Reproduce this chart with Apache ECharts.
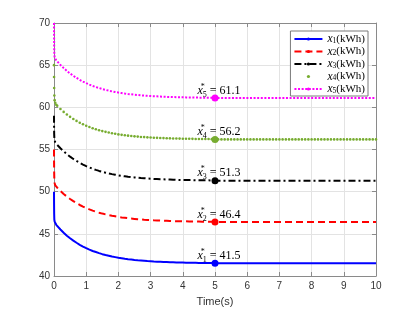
<!DOCTYPE html>
<html><head><meta charset="utf-8">
<script src="https://cdn.jsdelivr.net/npm/echarts@6/dist/echarts.min.js"></script>
<style>html,body{margin:0;padding:0;background:#fff}#c{width:415px;height:312px}</style>
</head><body><div id="c"></div>
<script>
const time = [0,0.002,0.005,0.01,0.02,0.04,0.07,
0.1,0.2,0.3,0.4,0.5,0.6,0.7,0.8,0.9,1.0,
1.1,1.2,1.3,1.4,1.5,1.6,1.7,1.8,1.9,2.0,
2.1,2.2,2.3,2.4,2.5,2.6,2.7,2.8,2.9,3.0,
3.1,3.2,3.3,3.4,3.5,3.6,3.7,3.8,3.9,4.0,
4.1,4.2,4.3,4.4,4.5,4.6,4.7,4.8,4.9,5.0,
5.1,5.2,5.3,5.4,5.5,5.6,5.7,5.8,5.9,6.0,
6.1,6.2,6.3,6.4,6.5,6.6,6.7,6.8,6.9,7.0,
7.1,7.2,7.3,7.4,7.5,7.6,7.7,7.8,7.9,8.0,
8.1,8.2,8.3,8.4,8.5,8.6,8.7,8.8,8.9,9.0,
9.1,9.2,9.3,9.4,9.5,9.6,9.7,9.8,9.9,10.0];

const x1 = [50.0,48.6,47.4,46.7,46.45,46.22,46.07,
45.93,45.51,45.13,44.78,44.47,44.19,43.94,43.70,43.49,43.30,
43.13,42.97,42.84,42.71,42.59,42.49,42.40,42.31,42.24,42.16,
42.10,42.04,41.99,41.95,41.90,41.86,41.83,41.80,41.77,41.75,
41.72,41.70,41.68,41.66,41.65,41.63,41.62,41.61,41.60,41.59,
41.58,41.57,41.57,41.56,41.55,41.55,41.54,41.54,41.53,41.53,
41.5,41.5,41.5,41.5,41.5,41.5,41.5,41.5,41.5,41.5,
41.5,41.5,41.5,41.5,41.5,41.5,41.5,41.5,41.5,41.5,
41.5,41.5,41.5,41.5,41.5,41.5,41.5,41.5,41.5,41.5,
41.5,41.5,41.5,41.5,41.5,41.5,41.5,41.5,41.5,41.5,
41.5,41.5,41.5,41.5,41.5,41.5,41.5,41.5,41.5,41.5];

const x2 = [55.0,53.5,52.3,51.5,51.0,50.75,50.59,
50.47,50.09,49.73,49.42,49.13,48.87,48.64,48.42,48.23,48.06,
47.90,47.75,47.63,47.51,47.40,47.31,47.22,47.14,47.08,47.01,
46.95,46.90,46.85,46.81,46.77,46.73,46.70,46.67,46.65,46.63,
46.60,46.58,46.57,46.55,46.54,46.52,46.51,46.50,46.49,46.48,
46.48,46.47,46.46,46.45,46.45,46.44,46.44,46.44,46.43,46.43,
46.4,46.4,46.4,46.4,46.4,46.4,46.4,46.4,46.4,46.4,
46.4,46.4,46.4,46.4,46.4,46.4,46.4,46.4,46.4,46.4,
46.4,46.4,46.4,46.4,46.4,46.4,46.4,46.4,46.4,46.4,
46.4,46.4,46.4,46.4,46.4,46.4,46.4,46.4,46.4,46.4,
46.4,46.4,46.4,46.4,46.4,46.4,46.4,46.4,46.4,46.4];

const x3 = [59.0,57.8,56.9,56.4,56.1,55.85,55.68,
55.55,55.15,54.78,54.45,54.15,53.88,53.64,53.41,53.21,53.03,
52.87,52.71,52.58,52.46,52.35,52.25,52.16,52.08,52.01,51.93,
51.87,51.82,51.77,51.73,51.69,51.65,51.61,51.59,51.56,51.54,
51.51,51.49,51.47,51.46,51.44,51.43,51.42,51.40,51.39,51.38,
51.38,51.37,51.37,51.36,51.35,51.35,51.34,51.34,51.33,51.33,
51.3,51.3,51.3,51.3,51.3,51.3,51.3,51.3,51.3,51.3,
51.3,51.3,51.3,51.3,51.3,51.3,51.3,51.3,51.3,51.3,
51.3,51.3,51.3,51.3,51.3,51.3,51.3,51.3,51.3,51.3,
51.3,51.3,51.3,51.3,51.3,51.3,51.3,51.3,51.3,51.3,
51.3,51.3,51.3,51.3,51.3,51.3,51.3,51.3,51.3,51.3];

const x4 = [65.0,63.6,62.3,61.4,60.85,60.55,60.30,
60.18,59.80,59.46,59.15,58.87,58.62,58.39,58.18,57.99,57.82,
57.67,57.52,57.40,57.29,57.18,57.09,57.01,56.93,56.86,56.79,
56.74,56.69,56.64,56.60,56.56,56.53,56.49,56.47,56.44,56.42,
56.40,56.38,56.36,56.35,56.33,56.32,56.31,56.30,56.29,56.28,
56.27,56.27,56.26,56.25,56.25,56.24,56.24,56.24,56.23,56.23,
56.2,56.2,56.2,56.2,56.2,56.2,56.2,56.2,56.2,56.2,
56.2,56.2,56.2,56.2,56.2,56.2,56.2,56.2,56.2,56.2,
56.2,56.2,56.2,56.2,56.2,56.2,56.2,56.2,56.2,56.2,
56.2,56.2,56.2,56.2,56.2,56.2,56.2,56.2,56.2,56.2,
56.2,56.2,56.2,56.2,56.2,56.2,56.2,56.2,56.2,56.2];

const x5 = [70.0,68.6,67.3,66.3,65.9,65.7,65.57,
65.44,65.03,64.66,64.32,64.01,63.74,63.49,63.26,63.05,62.87,
62.70,62.54,62.41,62.29,62.17,62.07,61.98,61.89,61.82,61.75,
61.69,61.63,61.58,61.54,61.49,61.46,61.42,61.39,61.36,61.34,
61.32,61.30,61.28,61.26,61.24,61.23,61.22,61.21,61.20,61.19,
61.18,61.17,61.17,61.16,61.15,61.15,61.14,61.14,61.13,61.13,
61.1,61.1,61.1,61.1,61.1,61.1,61.1,61.1,61.1,61.1,
61.1,61.1,61.1,61.1,61.1,61.1,61.1,61.1,61.1,61.1,
61.1,61.1,61.1,61.1,61.1,61.1,61.1,61.1,61.1,61.1,
61.1,61.1,61.1,61.1,61.1,61.1,61.1,61.1,61.1,61.1,
61.1,61.1,61.1,61.1,61.1,61.1,61.1,61.1,61.1,61.1];

const seriesNames = ['x1(kWh)','x2(kWh)','x3(kWh)','x4(kWh)','x5(kWh)'];
const finalTime = 5;
const finals = [41.5, 46.4, 51.3, 56.2, 61.1];
const colors = ['#0000ff','#ff0000','#000000','#77ac30','#ff00ff'];
const xMin = 0, xMax = 10, xStep = 1;
const yMin = 40, yMax = 70, yStep = 5;
const xAxisTitle = 'Time(s)';

const allSeries = [x1, x2, x3, x4, x5];
const serif = '"Liberation Serif", "DejaVu Serif", serif';
const sans = '"Liberation Sans", Arial, sans-serif';

const lineStyles = [
  {width: 2, type: 'solid'},
  {width: 2, type: [7, 4]},
  {width: 2, type: [7, 3, 2, 3]},
  {width: 0, opacity: 0},
  {width: 2, type: [2, 1.6]}
];

const labelRich = {
  x: {fontFamily: serif, fontStyle: 'italic', fontSize: 12, color: '#000', lineHeight: 16},
  sup: {fontFamily: serif, fontSize: 8, color: '#000', verticalAlign: 'top', lineHeight: 8, width: 0.01},
  sub: {fontFamily: serif, fontSize: 8, color: '#000', verticalAlign: 'bottom', lineHeight: 8},
  eq: {fontFamily: serif, fontSize: 12, color: '#000', lineHeight: 16}
};

const series = allSeries.map((vals, i) => ({
  name: seriesNames[i],
  type: 'line',
  data: time.map((t, k) => [t, vals[k]]),
  symbol: i === 3 ? 'circle' : 'none',
  symbolSize: 2.6,
  showSymbol: i === 3,
  itemStyle: {color: colors[i]},
  lineStyle: Object.assign({color: colors[i]}, lineStyles[i]),
  animation: false,
  z: 3,
  markPoint: {
    symbol: 'circle',
    symbolSize: 7,
    itemStyle: {color: colors[i]},
    data: [{coord: [finalTime, finals[i]], value: finals[i]}],
    label: {
      show: true,
      position: 'top',
      distance: 0,
      offset: [4, 4],
      formatter: () => '{x|x}{sup|*}{sub|' + (i + 1) + '}{eq| = ' + finals[i].toFixed(1) + '}',
      rich: labelRich
    }
  }
}));

const chart = echarts.init(document.getElementById('c'), null, {renderer: 'canvas'});
const axisLineColor = '#8a8a8a';
chart.setOption({
  animation: false,
  backgroundColor: '#fff',
  grid: {left: 54, right: 39, top: 23, bottom: 35},
  legend: {
    orient: 'vertical',
    right: 47,
    top: 31,
    itemWidth: 28,
    itemHeight: 4,
    itemGap: 0.5,
    padding: [2, 3, 1, 3],
    backgroundColor: '#fff',
    borderColor: '#7a7a7a',
    borderWidth: 1,
    borderRadius: 0,
    data: seriesNames,
    formatter: (name) => {
      const idx = seriesNames.indexOf(name) + 1;
      return '{x|x}{sub|' + idx + '}{k|(kWh)}';
    },
    textStyle: {
      rich: {
        x: {fontFamily: serif, fontStyle: 'italic', fontSize: 11.5, color: '#000', lineHeight: 12},
        sub: {fontFamily: serif, fontSize: 7.5, color: '#000', verticalAlign: 'bottom', lineHeight: 7},
        k: {fontFamily: serif, fontSize: 11, color: '#000', lineHeight: 12}
      }
    }
  },
  xAxis: [{
    type: 'value', min: xMin, max: xMax, interval: xStep,
    name: xAxisTitle, nameLocation: 'middle', nameGap: 20,
    nameTextStyle: {fontFamily: sans, fontSize: 11, color: '#333'},
    axisLine: {show: true, lineStyle: {color: axisLineColor, width: 1}},
    axisTick: {show: true, inside: true, length: 4, lineStyle: {color: axisLineColor}},
    axisLabel: {fontFamily: sans, fontSize: 10, color: '#333', margin: 5},
    splitLine: {show: true, lineStyle: {color: '#e3e3e3', width: 1}}
  }, {
    type: 'value', min: xMin, max: xMax, interval: xStep, position: 'top',
    axisLine: {show: true, onZero: false, lineStyle: {color: axisLineColor, width: 1}},
    axisTick: {show: true, inside: true, length: 4, lineStyle: {color: axisLineColor}},
    axisLabel: {show: false}, splitLine: {show: false}
  }],
  yAxis: [{
    type: 'value', min: yMin, max: yMax, interval: yStep,
    axisLine: {show: true, onZero: false, lineStyle: {color: axisLineColor, width: 1}},
    axisTick: {show: true, inside: true, length: 4, lineStyle: {color: axisLineColor}},
    axisLabel: {fontFamily: sans, fontSize: 10, color: '#333', margin: 4},
    splitLine: {show: true, lineStyle: {color: '#e3e3e3', width: 1}}
  }, {
    type: 'value', min: yMin, max: yMax, interval: yStep, position: 'right',
    axisLine: {show: true, onZero: false, lineStyle: {color: axisLineColor, width: 1}},
    axisTick: {show: true, inside: true, length: 4, lineStyle: {color: axisLineColor}},
    axisLabel: {show: false}, splitLine: {show: false}
  }],
  series: series
});
</script>
</body></html>
